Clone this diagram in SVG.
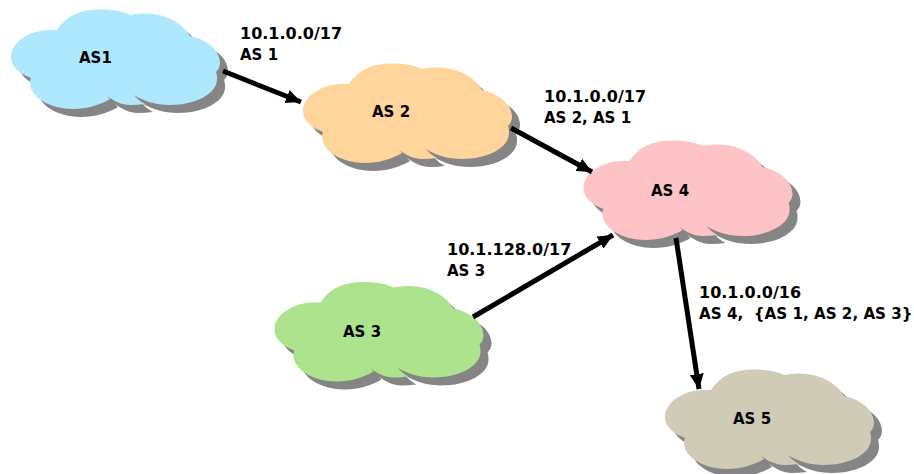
<svg xmlns="http://www.w3.org/2000/svg" width="914" height="474" viewBox="0 0 914 474">
<style>
text{font-family:"DejaVu Sans",Verdana,sans-serif;font-weight:700;font-size:15px;fill:#000}
text.ip{font-size:16px}
.shadow{fill:#858585}
.conn{stroke:#000;stroke-width:5;fill:none;marker-end:url(#arrow)}
</style>
<defs>
<marker id="arrow" markerUnits="userSpaceOnUse" markerWidth="20" markerHeight="18" refX="15" refY="9" orient="auto"><path d="M0 2L15 9L0 16z" fill="#000"/></marker>
<path id="cloud" d="M57 30C66 16 80 9.500 100 9.500C112 9.500 122 11 130 15C136 14 140 13.500 146 13.500C165 14 182 22 190 36C206 39 220 50 220 63C220 67 218 70 216 72C217 75 217 76 217 79C217 94 195 105 170 105C156 105 143 101 134 95C137 99 141 102 145 104C140 104.500 135 105 130 105C122 105 113 101 106 95C108 97 109 98 110 99C100 105 87 109 73 109C50 109 30 97 30 83C30 81 30 80 31 78C18 73 11 66 11 57C11 42 30 30 50 30C52 30 55 30 57 30Z"/>
</defs>
<g id="as1"><use href="#cloud" class="shadow" x="8" y="8"/><use href="#cloud" fill="#aee8ff"/><text x="79" y="63">AS1</text></g>
<g id="as2"><use href="#cloud" class="shadow" x="300" y="62"/><use href="#cloud" fill="#ffd59b" x="292" y="54"/><text x="372" y="117">AS 2</text></g>
<g id="as4"><use href="#cloud" class="shadow" x="580.500" y="139"/><use href="#cloud" fill="#fdc3c6" x="572.500" y="131"/><text x="651" y="196">AS 4</text></g>
<g id="as3"><use href="#cloud" class="shadow" x="271.500" y="280.500"/><use href="#cloud" fill="#ace38c" x="263.500" y="272.500"/><text x="343" y="337">AS 3</text></g>
<g id="as5"><use href="#cloud" class="shadow" x="662" y="368"/><use href="#cloud" fill="#d0cbb6" x="654" y="360"/><text x="733" y="424">AS 5</text></g>
<g id="connectors">
<line class="conn" x1="223" y1="71" x2="301" y2="102"/>
<line class="conn" x1="511" y1="128" x2="592" y2="172"/>
<line class="conn" x1="473" y1="317" x2="613" y2="235"/>
<line class="conn" x1="676" y1="238" x2="699" y2="389"/>
</g>
<g id="labels">
<text class="ip" x="240" y="39">10.1.0.0/17</text><text x="240" y="60">AS 1</text>
<text class="ip" x="544" y="102">10.1.0.0/17</text><text x="544" y="123">AS 2, AS 1</text>
<text class="ip" x="447" y="255">10.1.128.0/17</text><text x="447" y="276">AS 3</text>
<text class="ip" x="699" y="298">10.1.0.0/16</text><text x="699" y="319" xml:space="preserve" style="font-size:15.15px">AS 4,  {AS 1, AS 2, AS 3}</text>
</g>
</svg>
